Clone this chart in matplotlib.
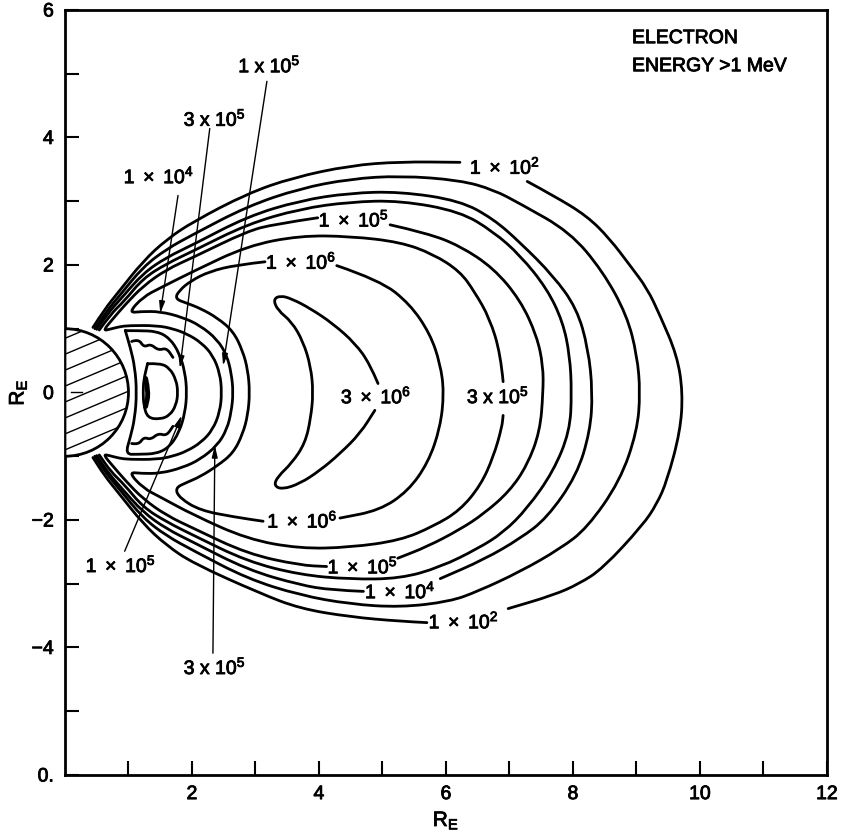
import numpy as np
import matplotlib
matplotlib.use("Agg")
import matplotlib.pyplot as plt
import matplotlib.patheffects as pe
from matplotlib.patches import Wedge, PathPatch
from matplotlib.path import Path

plt.rcParams['font.family'] = ['Liberation Sans', 'DejaVu Sans']
plt.rcParams['mathtext.fontset'] = 'custom'
plt.rcParams['mathtext.rm'] = 'Liberation Sans'
plt.rcParams['mathtext.it'] = 'Liberation Sans:italic'
plt.rcParams['mathtext.bf'] = 'Liberation Sans:bold'

# ---- contour lines (R_E units) ----
c1e2_upper = [(0.44, 1.02), (0.62, 1.30), (0.83, 1.56), (1.23, 2.06), (1.60, 2.40), (2.02, 2.68),
              (2.87, 3.12), (3.59, 3.37), (4.49, 3.56), (5.28, 3.62), (6.22, 3.61)]
c1e2_right = [(7.28, 3.31), (7.69, 3.09), (8.22, 2.77), (8.58, 2.41), (8.90, 1.99), (9.17, 1.63),
              (9.37, 1.21), (9.64, 0.58), (9.73, 0.0), (9.69, -0.61), (9.48, -1.39), (9.32, -1.75),
              (9.10, -2.08), (8.47, -2.76), (8.10, -3.00), (7.69, -3.18), (6.98, -3.39)]
c1e2_lower = [(5.70, -3.61), (5.28, -3.59), (4.49, -3.52), (3.70, -3.39), (3.07, -3.15), (2.02, -2.68),
              (1.60, -2.40), (1.23, -2.06), (0.83, -1.56), (0.62, -1.30), (0.44, -1.02)]

c1e3 = [(0.47, 1.00), (0.65, 1.27), (0.86, 1.52), (1.23, 1.97), (1.60, 2.25), (2.02, 2.48), (2.87, 2.92),
        (3.70, 3.20), (4.49, 3.35), (5.28, 3.40), (6.22, 3.33), (6.75, 3.18), (7.17, 2.96), (7.95, 2.52),
        (8.47, 1.90), (8.85, 1.21), (9.01, 0.58), (9.06, 0.0), (9.01, -0.61), (8.74, -1.39), (8.22, -2.13),
        (7.80, -2.45), (7.17, -2.81), (6.50, -3.12), (6.06, -3.28), (5.28, -3.37), (4.49, -3.32),
        (3.70, -3.18), (2.87, -2.92), (2.02, -2.48), (1.60, -2.25), (1.23, -1.97), (0.86, -1.52),
        (0.65, -1.27), (0.47, -1.00)]

c1e4_upper = [(0.50, 0.99), (0.68, 1.25), (0.89, 1.48), (1.23, 1.87), (1.60, 2.12), (2.02, 2.32),
              (2.87, 2.76), (3.70, 3.01), (4.49, 3.13), (5.28, 3.15), (6.22, 3.01), (6.75, 2.72),
              (7.17, 2.35), (7.69, 1.83), (8.06, 1.32), (8.24, 0.69), (8.31, 0.0), (8.27, -0.61),
              (8.06, -1.30), (7.59, -1.97), (7.17, -2.29), (6.60, -2.62), (5.91, -2.92)]
c1e4_lower = [(4.70, -3.12), (4.20, -3.10), (3.70, -3.02), (2.87, -2.78), (2.02, -2.35), (1.60, -2.14),
              (1.23, -1.88), (0.89, -1.50), (0.68, -1.26), (0.50, -0.99)]

c3e4 = [(0.54, 0.98), (0.72, 1.23), (0.93, 1.43), (1.23, 1.79), (1.60, 2.02), (2.02, 2.22), (2.87, 2.64),
        (3.70, 2.88), (4.49, 2.99), (5.28, 3.01), (6.22, 2.84), (6.75, 2.52), (7.17, 2.15), (7.59, 1.63),
        (7.84, 1.11), (7.95, 0.58), (7.98, 0.0), (7.95, -0.61), (7.69, -1.24), (7.28, -1.82),
        (6.90, -2.20), (6.50, -2.45), (5.91, -2.74), (5.28, -2.92), (4.49, -2.93), (3.70, -2.86),
        (2.87, -2.65), (2.02, -2.24), (1.60, -2.03), (1.23, -1.80), (0.93, -1.44), (0.72, -1.24),
        (0.54, -0.98)]

c1e5_left = [(3.98, 2.74), (3.30, 2.64), (2.87, 2.53), (2.02, 2.12), (1.60, 1.93), (1.23, 1.67),
             (0.95, 1.38), (0.75, 1.15), (0.60, 0.97), (0.70, 0.99), (0.85, 1.03), (1.00, 1.05),
             (1.45, 1.05), (1.70, 1.00), (1.92, 0.92), (2.15, 0.78), (2.33, 0.58), (2.44, 0.30),
             (2.47, 0.0), (2.44, -0.30), (2.33, -0.58), (2.15, -0.78), (1.92, -0.92), (1.70, -1.00),
             (1.45, -1.05), (1.00, -1.05), (0.85, -1.03), (0.70, -0.99), (0.60, -0.97), (0.75, -1.15),
             (0.95, -1.38), (1.23, -1.67), (1.60, -1.93), (2.02, -2.13), (2.87, -2.53), (3.70, -2.71),
             (4.12, -2.73)]
c1e5_right = [(5.12, 2.63), (5.70, 2.50), (6.22, 2.30), (6.75, 1.95), (7.17, 1.45), (7.43, 0.89),
              (7.53, 0.42), (7.53, 0.0), (7.48, -0.61), (7.28, -1.14), (7.00, -1.55), (6.60, -1.90),
              (6.22, -2.15), (5.70, -2.42), (5.24, -2.60)]

c3e5 = [(6.90, 0.17), (6.86, 0.60), (6.69, 1.16), (6.45, 1.58), (6.22, 1.90), (5.80, 2.17), (5.28, 2.36),
        (4.49, 2.45), (3.70, 2.46), (2.87, 2.30), (2.02, 1.90), (1.50, 1.64), (1.23, 1.50), (1.00, 1.25),
        (1.20, 1.27), (1.50, 1.27), (1.85, 1.18), (2.13, 1.05), (2.40, 0.83), (2.55, 0.58), (2.62, 0.30),
        (2.65, 0.0), (2.62, -0.30), (2.55, -0.58), (2.40, -0.83), (2.13, -1.05), (1.85, -1.18),
        (1.50, -1.27), (1.20, -1.27), (1.00, -1.25), (1.23, -1.50), (1.50, -1.64), (2.02, -1.92),
        (2.87, -2.30), (3.70, -2.45), (4.49, -2.43), (5.28, -2.32), (5.80, -2.10), (6.22, -1.85),
        (6.55, -1.45), (6.75, -1.00), (6.88, -0.55), (6.90, -0.36)]

c1e6_left = [(3.15, 2.05), (2.70, 2.00), (2.28, 1.90), (1.98, 1.75), (1.80, 1.60), (1.73, 1.47),
             (1.92, 1.40), (2.13, 1.32), (2.40, 1.17), (2.65, 0.96), (2.80, 0.65), (2.88, 0.35),
             (2.91, 0.0), (2.88, -0.35), (2.80, -0.65), (2.65, -0.95), (2.40, -1.15), (2.13, -1.32),
             (1.92, -1.41), (1.73, -1.50), (1.81, -1.66), (2.13, -1.85), (2.65, -1.95), (3.12, -2.02)]
c1e6_right = [(4.28, 1.99), (4.96, 1.76), (5.43, 1.39), (5.75, 0.92), (5.91, 0.45), (5.97, 0.0),
              (5.91, -0.55), (5.72, -1.10), (5.40, -1.55), (4.95, -1.85), (4.33, -1.97)]

c3e6 = [(4.93, 0.14), (4.80, 0.45), (4.57, 0.77), (4.22, 1.08), (3.86, 1.32), (3.57, 1.47), (3.39, 1.52),
        (3.28, 1.46), (3.35, 1.29), (3.57, 1.11), (3.75, 0.80), (3.87, 0.41), (3.91, 0.0), (3.87, -0.41),
        (3.78, -0.80), (3.57, -1.11), (3.35, -1.32), (3.29, -1.46), (3.42, -1.52), (3.70, -1.43),
        (4.02, -1.22), (4.33, -0.96), (4.65, -0.64), (4.88, -0.28)]

# inner belt
inner_loop = [(0.95, 0.97), (1.15, 0.97), (1.45, 0.96), (1.65, 0.85), (1.80, 0.62), (1.89, 0.32),
              (1.92, 0.0), (1.89, -0.32), (1.80, -0.62), (1.65, -0.85), (1.45, -0.96), (1.15, -0.97),
              (0.95, -0.97), (1.03, -0.70), (1.10, -0.40), (1.13, 0.0), (1.10, 0.40), (1.03, 0.70),
              (0.95, 0.97)]
inner_d = [(1.30, 0.45), (1.50, 0.46), (1.65, 0.38), (1.75, 0.20), (1.78, 0.0), (1.75, -0.20),
           (1.65, -0.36), (1.50, -0.42), (1.30, -0.40), (1.24, -0.20), (1.23, 0.0), (1.24, 0.20),
           (1.30, 0.45)]
wiggle_up = [(1.05, 0.80), (1.16, 0.84), (1.24, 0.71), (1.35, 0.76), (1.47, 0.66), (1.60, 0.70),
             (1.70, 0.55)]
wiggle_lo = [(1.05, -0.80), (1.16, -0.82), (1.24, -0.70), (1.35, -0.74), (1.47, -0.64), (1.60, -0.68),
             (1.70, -0.53)]
d_mark = [(1.27, 0.22), (1.32, 0.0), (1.27, -0.22)]

# inline labels: text, x, y
inline_labels = [
    (r'$1\ \times\ 10^{2}$', 6.93, 3.54),
    (r'$1\ \times\ 10^{5}$', 4.55, 2.71),
    (r'$1\ \times\ 10^{6}$', 3.72, 2.05),
    (r'$3\ \times\ 10^{6}$', 4.90, -0.06),
    (r'$3\ \mathrm{x}\ 10^{5}$', 6.82, -0.06),
    (r'$1\ \times\ 10^{6}$', 3.74, -2.01),
    (r'$1\ \times\ 10^{5}$', 4.69, -2.73),
    (r'$1\ \times\ 10^{4}$', 5.28, -3.12),
    (r'$1\ \times\ 10^{2}$', 6.28, -3.59),
]

# callouts: text, text position, leader start, arrow tip
callouts = [
    (r'$1\ \mathrm{x}\ 10^{5}$', (3.22, 5.13), (3.18, 4.88), (2.49, 0.42)),
    (r'$3\ \mathrm{x}\ 10^{5}$', (2.36, 4.29), (2.28, 4.14), (1.81, 0.38)),
    (r'$1\ \times\ 10^{4}$', (1.48, 3.39), (1.78, 3.09), (1.50, 1.24)),
    (r'$1\ \times\ 10^{5}$', (0.88, -2.71), (0.94, -2.49), (1.84, -0.36)),
    (r'$3\ \mathrm{x}\ 10^{5}$', (2.36, -4.31), (2.33, -4.09), (2.36, -0.83)),
]

x_ticks = list(range(1, 13))
x_ticklabels = ['', '2', '', '4', '', '6', '', '8', '', '10', '', '12']
y_ticks = list(range(-6, 7))
y_ticklabels = ['0.', '', '\u22124', '', '\u22122', '', '0', '', '2', '', '4', '', '6']

heavy = [pe.withStroke(linewidth=0.6, foreground='black')]

fig = plt.figure(figsize=(8.44, 8.37), dpi=100)
ax = fig.add_axes([0.0770, 0.0729, 0.9028, 0.9140])
ax.set_xlim(0, 12)
ax.set_ylim(-6, 6)


def draw(points, lw=2.0):
    # smooth pen stroke through the read points (quadratic pieces)
    pts = np.asarray(points, dtype=float)
    verts = [pts[0]]
    codes = [Path.MOVETO]
    for i in range(1, len(pts) - 1):
        verts += [pts[i], (pts[i] + pts[i + 1]) / 2]
        codes += [Path.CURVE3, Path.CURVE3]
    verts.append(pts[-1])
    codes.append(Path.LINETO)
    ax.add_patch(PathPatch(Path(verts, codes), facecolor='none', edgecolor='black',
                           lw=lw, joinstyle='round', capstyle='round'))


for seg in [c1e2_upper, c1e2_right, c1e2_lower, c1e3, c1e4_upper, c1e4_lower, c3e4,
            c1e5_left, c1e5_right, c3e5, c1e6_left, c1e6_right, c3e6,
            inner_loop, inner_d, wiggle_up, wiggle_lo]:
    draw(seg)
draw(d_mark, lw=3.5)

# earth, hatched
earth = Wedge((0, 0), 1.0, -90, 90, facecolor='white', edgecolor='black', lw=2.0, zorder=3)
ax.add_patch(earth)
hx = np.array([0.0, 1.1])
for c in np.arange(-1.40, 1.05, 0.25):
    ln, = ax.plot(hx, 0.42 * hx + c, color='black', lw=1.0, zorder=4)
    ln.set_clip_path(earth)
ax.plot([0.1, 0.27], [0.0, 0.0], color='black', lw=1.0, zorder=4)

for s, x, y in inline_labels:
    ax.text(x, y, s, ha='center', va='center', fontsize=14, path_effects=heavy)

for s, tpos, start, tip in callouts:
    ax.text(tpos[0], tpos[1], s, ha='center', va='center', fontsize=14, path_effects=heavy)
    ax.annotate('', xy=tip, xytext=start,
                arrowprops=dict(arrowstyle='-|>,head_length=0.7,head_width=0.17',
                                color='black', lw=1.0, shrinkA=0, shrinkB=0))

ax.text(8.93, 5.55, 'ELECTRON', ha='left', va='center', fontsize=14, path_effects=heavy)
ax.text(8.93, 5.11, 'ENERGY >1 MeV', ha='left', va='center', fontsize=14, path_effects=heavy)

ax.set_xticks(x_ticks)
ax.set_xticklabels(x_ticklabels)
ax.set_yticks(y_ticks)
ax.set_yticklabels(y_ticklabels)
ax.tick_params(direction='in', length=10, width=1.5, labelsize=14, pad=8)
for lbl in ax.get_xticklabels() + ax.get_yticklabels():
    lbl.set_path_effects(heavy)
for sp in ax.spines.values():
    sp.set_linewidth(2.0)

ax.set_xlabel(r'$\mathrm{R}_{\mathrm{E}}$', fontsize=15, labelpad=5, path_effects=heavy)
ax.set_ylabel(r'$\mathrm{R}_{\mathrm{E}}$', fontsize=15, labelpad=2, path_effects=heavy)

fig.savefig('out.png', dpi=100)
